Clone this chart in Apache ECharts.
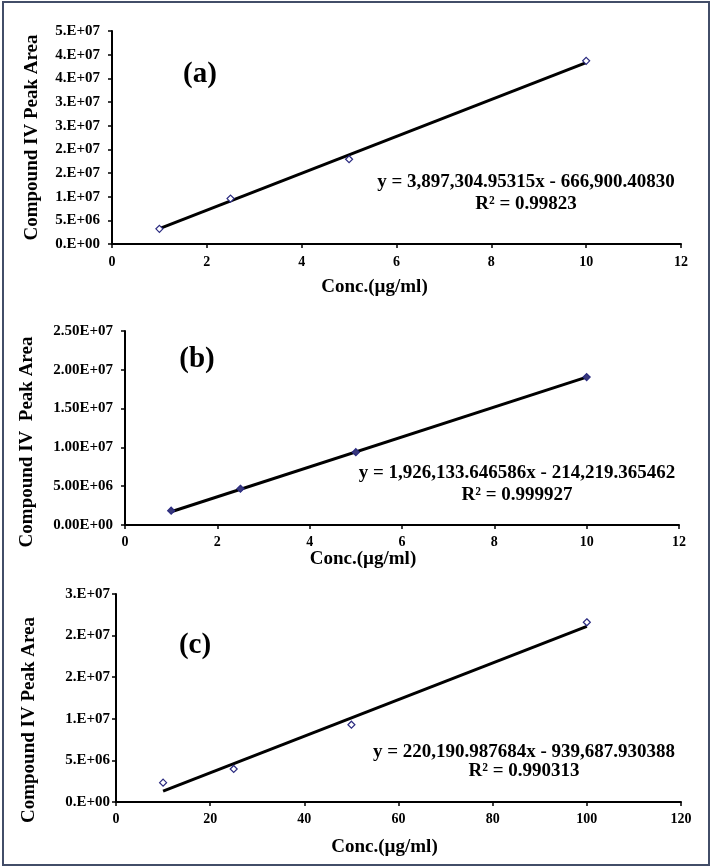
<!DOCTYPE html>
<html>
<head>
<meta charset="utf-8">
<script src="https://cdn.jsdelivr.net/npm/echarts@6/dist/echarts.min.js"></script>
<style>
  html, body { margin: 0; padding: 0; background: #fff; }
  #chart { width: 712px; height: 868px; }
</style>
</head>
<body>
<div id="chart"></div>
<script>
// calibration data
const concAB = [1, 2.5, 5, 10];
const concC = [10, 25, 50, 100];
const areaA = [3.2e6, 9.6e6, 17.9e6, 38.7e6];
const areaB = [1.84e6, 4.67e6, 9.38e6, 19.06e6];
const areaC = [2.32e6, 3.97e6, 9.29e6, 21.6e6];

// trendline end points (first and last x)
const trendA = [3.23e6, 38.3e6];
const trendB = [1.71e6, 19.05e6];
const trendC = [1.3e6, 21.1e6];

const panelLabels = ['(a)', '(b)', '(c)'];
const equations = [
  'y = 3,897,304.95315x - 666,900.40830',
  'y = 1,926,133.646586x - 214,219.365462',
  'y = 220,190.987684x - 939,687.930388'
];
const rSquared = ['R² = 0.99823', 'R² = 0.999927', 'R² = 0.990313'];
const yTitles = ['Compound IV Peak Area', 'Compound IV  Peak Area', 'Compound IV Peak Area'];
const xTitle = 'Conc.(µg/ml)';

const FONT = "'Liberation Serif', 'Times New Roman', serif";

// Excel style "0.E+00" / "0.00E+00"
function sci(v, digits) {
  if (v === 0) return (0).toFixed(digits) + (digits ? '' : '.') + 'E+00';
  const e = Math.floor(Math.log10(v));
  let m = (v / Math.pow(10, e)).toFixed(digits);
  return m + (digits ? '' : '.') + 'E+' + String(e).padStart(2, '0');
}

const chart = echarts.init(document.getElementById('chart'));

const grids = [
  { left: 112, right: 31, top: 31, height: 213 },
  { left: 125, right: 33, top: 331, height: 194 },
  { left: 116, right: 31, top: 594, height: 208 }
];

const axisCommon = {
  axisLine: { lineStyle: { color: '#000', width: 2 } },
  axisTick: { show: true, length: 4, lineStyle: { color: '#000', width: 1.5 } },
  splitLine: { show: false }
};

const xAxes = [
  { max: 12, interval: 2, gap: 34, shift: 22, margin: 11 },
  { max: 12, interval: 2, gap: 23, shift: 39, margin: 10 },
  { max: 120, interval: 20, gap: 36, shift: 14, margin: 10 }
].map((a, i) => Object.assign({}, axisCommon, {
  type: 'value', gridIndex: i, min: 0, max: a.max, interval: a.interval,
  name: xTitle, nameLocation: 'middle', nameGap: a.gap,
  nameTextStyle: { fontFamily: FONT, fontWeight: 'bold', fontSize: 19, color: '#000', padding: [0, a.shift * 2, 0, 0] },
  axisLabel: { fontFamily: FONT, fontWeight: 'bold', fontSize: 14, color: '#000', margin: a.margin }
}));

const yAxes = [
  { max: 45e6, digits: 0, gap: 70, shift: 0, margin: 12 },
  { max: 25e6, digits: 2, gap: 88, shift: 14, margin: 12 },
  { max: 25e6, digits: 0, gap: 77, shift: 22, margin: 6 }
].map((a, i) => Object.assign({}, axisCommon, {
  type: 'value', gridIndex: i, min: 0, max: a.max, interval: 5e6,
  name: yTitles[i], nameLocation: 'middle', nameGap: a.gap,
  nameTextStyle: { fontFamily: FONT, fontWeight: 'bold', fontSize: 19, color: '#000', padding: [0, a.shift * 2, 0, 0] },
  axisLabel: {
    fontFamily: FONT, fontWeight: 'bold', fontSize: 15, color: '#000', margin: a.margin,
    formatter: v => sci(v, a.digits)
  }
}));

const pointSets = [
  [concAB, areaA, '#fff'],
  [concAB, areaB, '#3a3a7a'],
  [concC, areaC, '#fff']
];
const trendSets = [[concAB, trendA], [concAB, trendB], [concC, trendC]];

const series = [];
trendSets.forEach(([xs, ys], i) => {
  series.push({
    type: 'line', xAxisIndex: i, yAxisIndex: i, symbol: 'none', silent: true,
    lineStyle: { color: '#000', width: 3 },
    data: [[xs[0], ys[0]], [xs[xs.length - 1], ys[1]]],
    z: 2
  });
});
pointSets.forEach(([xs, ys, fill], i) => {
  series.push({
    type: 'scatter', xAxisIndex: i, yAxisIndex: i, symbol: 'diamond', symbolSize: 7,
    itemStyle: { color: fill, borderColor: '#2b2b80', borderWidth: 1.2, opacity: 1 },
    data: xs.map((x, k) => [x, ys[k]]),
    z: 3
  });
});

const labelPos = [[200, 75], [197, 360], [195, 646]];
const eqPos = [[526, 182, 204], [517, 473, 495], [524, 752, 771]];

const graphic = [
  { type: 'rect', shape: { x: 3, y: 2, width: 706, height: 863 }, style: { fill: 'none', stroke: '#424d68', lineWidth: 2 }, silent: true }
];
panelLabels.forEach((t, i) => {
  graphic.push({
    type: 'text', x: labelPos[i][0], y: labelPos[i][1],
    style: { text: t, font: 'bold 29px ' + FONT, fill: '#000', align: 'center', verticalAlign: 'middle' }
  });
  graphic.push({
    type: 'text', x: eqPos[i][0], y: eqPos[i][1],
    style: { text: equations[i], font: 'bold 19px ' + FONT, fill: '#000', align: 'center', verticalAlign: 'middle' }
  });
  graphic.push({
    type: 'text', x: eqPos[i][0], y: eqPos[i][2],
    style: { text: rSquared[i], font: 'bold 19px ' + FONT, fill: '#000', align: 'center', verticalAlign: 'middle' }
  });
});

chart.setOption({
  animation: false,
  backgroundColor: '#fff',
  grid: grids,
  xAxis: xAxes,
  yAxis: yAxes,
  series: series,
  graphic: graphic
});
</script>
</body>
</html>
